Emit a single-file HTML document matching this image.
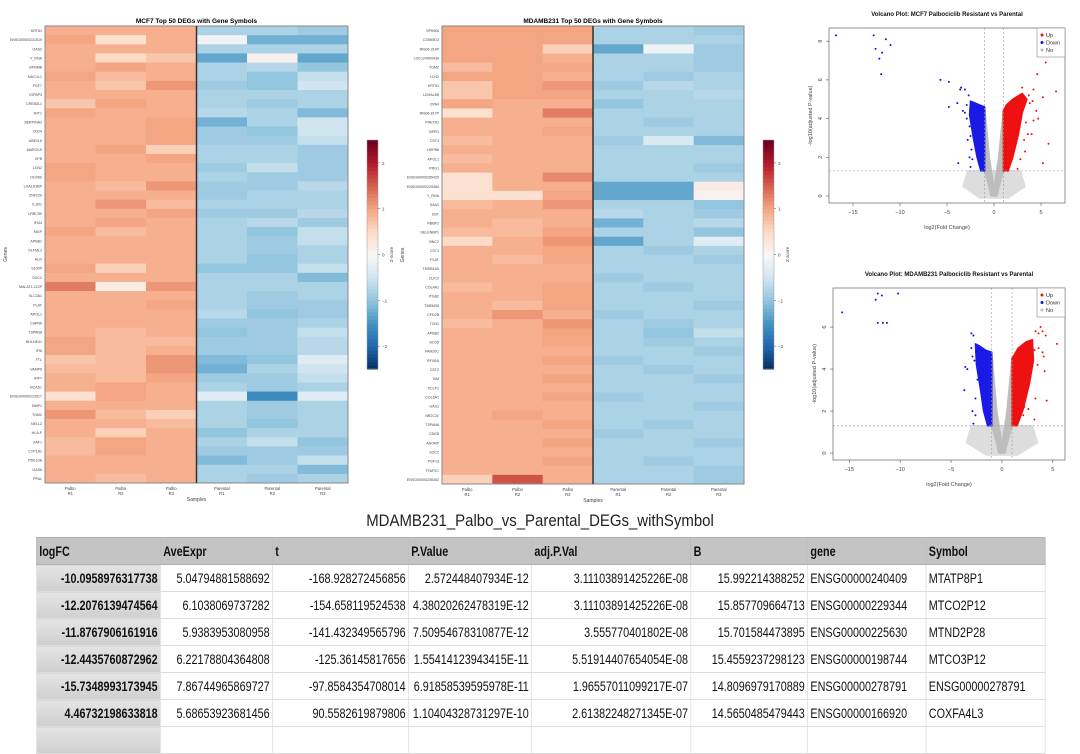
<!DOCTYPE html>
<html><head><meta charset="utf-8">
<style>
body{margin:0;width:1080px;height:712px;background:#fff;overflow:hidden;font-family:"Liberation Sans",sans-serif;position:relative}
svg{position:absolute;left:0;top:0}
#tbl-title{position:absolute;left:0;width:1080px;top:511px;text-align:center;font-size:17px;color:#222;transform:scaleX(0.88);transform-origin:540px 0}
table{position:absolute;left:36px;top:537px;border-collapse:collapse;table-layout:fixed;width:1261px;font-size:13.5px;color:#111;transform:scaleX(0.8);transform-origin:0 0}
td,th{height:26px;padding:0 3px;border:1px solid #ddd;white-space:nowrap;overflow:hidden}
th{background:#c4c4c4;text-align:left;font-weight:bold;border-color:#b0b0b0}
td{text-align:right}
td.first{background:linear-gradient(#e4e4e4,#cfcfcf);font-weight:bold}
td.txt{text-align:left}
</style></head><body>
<svg id="chart" width="1080" height="712"></svg>
<div id="tbl-title">MDAMB231_Palbo_vs_Parental_DEGs_withSymbol</div>
<table>
<colgroup><col style="width:155px"><col style="width:140px"><col style="width:170px"><col style="width:154px"><col style="width:199px"><col style="width:146px"><col style="width:148px"><col style="width:149px"></colgroup>
<tr><th>logFC</th><th>AveExpr</th><th>t</th><th>P.Value</th><th>adj.P.Val</th><th>B</th><th>gene</th><th>Symbol</th></tr>
<tr><td class="first">-10.0958976317738</td><td>5.04794881588692</td><td>-168.928272456856</td><td>2.572448407934E-12</td><td>3.11103891425226E-08</td><td>15.992214388252</td><td class="txt">ENSG00000240409</td><td class="txt">MTATP8P1</td></tr>
<tr><td class="first">-12.2076139474564</td><td>6.1038069737282</td><td>-154.658119524538</td><td>4.38020262478319E-12</td><td>3.11103891425226E-08</td><td>15.857709664713</td><td class="txt">ENSG00000229344</td><td class="txt">MTCO2P12</td></tr>
<tr><td class="first">-11.8767906161916</td><td>5.9383953080958</td><td>-141.432349565796</td><td>7.50954678310877E-12</td><td>3.555770401802E-08</td><td>15.701584473895</td><td class="txt">ENSG00000225630</td><td class="txt">MTND2P28</td></tr>
<tr><td class="first">-12.4435760872962</td><td>6.22178804364808</td><td>-125.36145817656</td><td>1.55414123943415E-11</td><td>5.51914407654054E-08</td><td>15.4559237298123</td><td class="txt">ENSG00000198744</td><td class="txt">MTCO3P12</td></tr>
<tr><td class="first">-15.7348993173945</td><td>7.86744965869727</td><td>-97.8584354708014</td><td>6.91858539595978E-11</td><td>1.96557011099217E-07</td><td>14.8096979170889</td><td class="txt">ENSG00000278791</td><td class="txt">ENSG00000278791</td></tr>
<tr><td class="first">4.46732198633818</td><td>5.68653923681456</td><td>90.5582619879806</td><td>1.10404328731297E-10</td><td>2.61382248271345E-07</td><td>14.5650485479443</td><td class="txt">ENSG00000166920</td><td class="txt">COXFA4L3</td></tr>
<tr><td class="first">&nbsp;</td><td></td><td></td><td></td><td></td><td></td><td></td><td></td></tr>
</table>
<script>
// ---------- DATA ----------
const samples = ["Palbo R1","Palbo R2","Palbo R3","Parental R1","Parental R2","Parental R3"];
const genes1 = ["KRT81","ENSG00000231519","OAS2","Y_RNA","GPNMB","MUC1L1","FGF7","IGFBP3","CREB3L1","IFIT1","SERPINA3","CD24","UBE2L6","MARCKS","CFB","LCN2","DDX60","LGALS3BP","ZNF229","IL1R1","LRRC59","IFI44","MGP","APBB1","OLFML3","HLR","S100P","SOC2","MALAT1-112P","SLC3A1","PLAT","APOL1","CAPN6","TSPAN8","BHLHE41","IFI6","FTL","VAMP5","IRF7","BCAS1","ENSG00000223517","BMP1","TGM2","NELL2","HLA-F","XAF1","CYP1A1","PDE10A","GAS6","PPAL"];
const values1 = [
[.9,.9,.9,-.8,-.8,-.9],[1.0,.4,.9,-.1,-1.2,-1.2],[.9,.9,.9,-.8,-.8,-.8],[.9,.5,.7,-1.3,.1,-1.3],[.9,1.0,.9,-.8,-.7,-1.0],
[1.0,.8,.9,-.8,-1.0,-.6],[.9,.7,1.1,-.9,-1.0,-.5],[.9,.9,.9,-.8,-.8,-.8],[.7,1.0,.9,-.8,-.9,-.8],[1.0,.9,.9,-.7,-.8,-1.1],
[.9,.9,1.0,-1.2,-.8,-.5],[.9,.9,1.0,-.9,-1.0,-.5],[.9,.9,1.0,-.9,-.9,-.6],[.9,1.0,.6,-.8,-.8,-.9],[.9,.9,1.0,-.8,-.8,-.9],
[1.0,.9,.9,-.9,-.6,-.9],[1.0,.9,.9,-.8,-.9,-.9],[.9,.8,1.1,-.9,-.9,-.7],[.9,.9,.9,-.9,-.8,-.8],[.9,1.1,.8,-.8,-.8,-.8],
[.9,.9,1.0,-.9,-.9,-.7],[.9,1.0,.9,-.8,-.7,-.9],[1.0,.8,.9,-.8,-1.0,-.6],[.9,.9,.9,-.8,-.9,-.6],[.9,.9,.9,-.8,-.9,-.8],
[.9,.9,.9,-.8,-1.0,-.8],[1.0,.6,.9,-1.0,-1.0,-.6],[.9,.9,.9,-.8,-.8,-1.1],[1.3,.2,1.1,-.8,-.8,-.8],[.9,.9,.9,-.8,-.9,-.8],
[.9,.9,1.0,-.8,-.9,-.9],[.9,.9,.9,-.7,-1.0,-.9],[.9,.9,.9,-.9,-.9,-.8],[.9,.8,.9,-1.0,-.9,-.6],[1.0,.8,.8,-.9,-.9,-.7],
[1.0,.8,.9,-.9,-.9,-.7],[.7,.8,1.1,-1.1,-1.0,-.3],[.8,.8,1.1,-1.2,-.8,-.5],[.9,.8,1.0,-.9,-.9,-.6],[.9,1.0,.9,-.8,-.9,-.8],
[.4,1.0,.9,-.3,-1.6,-.3],[.9,.9,.9,-.8,-.9,-.8],[1.1,.8,.6,-.8,-.9,-.8],[.9,.9,.8,-.8,-1.0,-.8],[.9,.6,.9,-1.0,-.8,-.8],
[.8,1.0,.9,-.8,-.6,-1.0],[.8,1.0,.9,-.9,-.9,-.9],[.9,.9,.9,-1.1,-.9,-.6],[.9,.9,.9,-.8,-.8,-1.1],[.9,.8,.9,-.8,-.9,-.8]];
const genes2 = ["SPINK8","COMMD3","RNU6-314P","LOC124900438","TGM2","LCN2","KRT81","LDHAL6B","CPA4","RNU6-817P","PHETA1","VIPR1","CST4","HSPB8","APOL1","PRG1","ENSG00000285425","ENSG00000229484","Y_RNA","SAA1","DST","RBBP1","SELENBP1","BNC2","CST1","PLAT","TMSB15A","CLIC2","COL4A1","ITGB2","TMEM30","CFD2B","TCN1","APBB2","SCG5","FAM20C","RFXBA","CST2","VIM","PCLP1","COL6A1","GAS1","NR2C2L","TSPAN8","CDKB","ADORP","SOC2","PGF13","TFAP2C","ENSG00000236452"];
const values2 = [
[1.0,1.0,1.0,-.8,-.8,-.9],[1.0,1.0,1.0,-.8,-.8,-.8],[1.0,1.0,.6,-1.3,-.1,-.9],[1.0,1.0,.9,-.8,-.8,-.9],[.8,1.0,1.0,-.8,-.8,-.9],
[1.0,1.0,.9,-.8,-.9,-.8],[.7,1.0,1.1,-.9,-.7,-.8],[.7,1.0,1.0,-.8,-.8,-.7],[1.0,.9,.9,-1.0,-.8,-.8],[.4,.9,1.3,-.8,-.8,-.8],
[.9,.9,.9,-.8,-.9,-.8],[.9,.9,1.0,-.8,-.8,-.8],[.8,.9,.9,-.9,-.4,-1.1],[.9,.9,.9,-.8,-.8,-.8],[.8,.9,.9,-.8,-.8,-.8],
[.9,.9,.9,-.8,-.8,-.9],[.4,.9,1.2,-.8,-.8,-.8],[.4,.9,.9,-1.3,-1.3,.2],[.4,.4,1.0,-1.3,-1.3,.1],[.8,.9,1.1,-.8,-.8,-1.0],
[.9,.9,.9,-.7,-.8,-.9],[.9,.8,.9,-1.2,-.8,-.7],[.8,.8,1.0,-.8,-.8,-1.0],[.5,.9,1.1,-1.3,-.8,-.3],[.9,.9,1.0,-.8,-.9,-.8],
[.9,.8,1.0,-.8,-.8,-.9],[.9,.9,.9,-.8,-.8,-.8],[.9,.9,.9,-.9,-.8,-.8],[.8,.9,1.0,-.8,-.9,-.8],[.9,.9,1.0,-.8,-.8,-.8],
[.9,.8,1.0,-.8,-.8,-.9],[.9,1.1,.9,-.9,-.8,-.8],[.8,.9,1.1,-.8,-.9,-.8],[.9,.9,1.0,-.8,-1.0,-.6],[.9,.9,1.0,-.8,-.9,-.8],
[.9,.9,.9,-.8,-.8,-.9],[.9,.9,1.0,-.9,-.8,-.8],[.9,.9,.9,-.8,-.9,-.8],[.9,.9,1.0,-.8,-.8,-.9],[.9,.9,.9,-.8,-.8,-.8],
[.9,.9,1.0,-.9,-.8,-.8],[.9,.9,.9,-.8,-.8,-.9],[.9,1.0,.9,-.8,-.8,-.8],[.9,.9,1.0,-.8,-.9,-.8],[.9,.9,.9,-.9,-.8,-.8],
[.9,.9,1.0,-.8,-.8,-.9],[.9,.9,.9,-.8,-.8,-.8],[.9,.9,1.0,-.8,-.9,-.8],[.9,.9,.9,-.8,-.8,-.9],[.6,1.6,.9,-.8,-.8,-.9]];
const cbarTicks = [2,1,0,-1,-2];
const volcXTicks = [-15,-10,-5,0,5];
const volc1YTicks = [0,2,4,6,8];
const volc2YTicks = [0,2,4,6];
const v1Down = [[-16.8,8.3],[-12.8,8.3],[-12.6,7.6],[-12.2,7.1],[-11.9,7.4],[-11.5,8.1],[-11,7.8],[-12,6.3],[-5.7,6],[-4.8,5.9],[-3.5,5.6],[-3.1,5.5],[-3.6,5.5],[-4.8,4.6],[-2.7,5.2],[-3.8,1.7],[-2.6,2.0],[-2.5,1.5],[-3.9,4.8],[-3.3,4.4],[-2.9,4.0],[-2.6,3.6],[-2.8,2.9],[-2.4,2.4],[-2.9,4.7],[-3.1,4.3],[-2.5,3.1],[-2.3,1.9]];
const v1Up = [[5.5,6.9],[4.6,6.3],[6.6,5.4],[5.2,5.1],[4.5,4.4],[4.7,4.0],[4.2,3.9],[5.8,2.7],[5.2,1.7],[3.3,2.3],[4,3.2],[2.5,1.4],[3.6,3.2],[3,5.6],[4.2,5.5],[3.8,4.8],[3.4,3.8],[4.1,4.9],[3.7,5.2],[3.2,2.9],[2.8,1.9]];
const v1DownCloud = [[-1,1.3],[-1,4.6],[-1.5,4.7],[-2,4.8],[-2.5,4.9],[-2.6,4.2],[-2.2,3],[-1.8,2],[-1.4,1.3]];
const v1UpCloud = [[1,1.3],[1,4.4],[1.3,4.7],[2,5],[3,5.3],[3.5,5],[3,4.3],[2.6,3.2],[2,2],[1.5,1.3]];
const v1NoCloud = [[-1,4.6],[-1,1.3],[-0.6,0.6],[-0.3,0],[0.3,0],[0.6,0.6],[1,1.3],[1,4.5],[0.5,2],[0,0.4],[-0.5,2]];
const v1NoScatter = [[-2.8,1.3],[-3.3,0.5],[-1.5,-0.1],[1.5,-0.1],[3.3,0.5],[2.8,1.3]];
const v2Down = [[-15.7,6.7],[-12.4,7.3],[-12.2,7.6],[-11.8,7.5],[-10.2,7.6],[-12.2,6.2],[-11.7,6.2],[-11.3,6.2],[-3,5.7],[-2.8,5.6],[-3.6,4.1],[-3.7,3.0],[-2.9,2.0],[-2.8,1.4],[-2.6,1.8],[-3.4,4.0],[-2.5,4.8],[-3,5.0],[-2.7,4.4],[-2.4,3.5],[-2.9,4.6],[-2.6,2.6]];
const v2Up = [[3.8,6],[3.3,5.8],[3.6,5.7],[4.3,5.6],[5.4,5.2],[4,4.8],[4.1,4.6],[4.2,3.9],[4.4,2.5],[3.3,2.6],[2.2,2.2],[2.6,2.1],[3.2,1.6],[2.1,1.8],[4,5.8],[3.5,4.2],[3.2,4.9],[3.6,5.0],[2.8,3.6]];
const v2DownCloud = [[-1,1.3],[-1,4.8],[-1.6,4.9],[-2.2,5.1],[-2.6,5.2],[-2.5,4.2],[-2.1,3],[-1.8,2],[-1.4,1.3]];
const v2UpCloud = [[1,1.3],[1,4.5],[1.6,5],[2.4,5.3],[3,5.4],[3.1,4.4],[2.7,3.3],[2.1,2.1],[1.5,1.3]];
const v2NoCloud = [[-1,4.8],[-1,1.3],[-0.6,0.6],[-0.3,0],[0.3,0],[0.6,0.6],[1,1.3],[1,4.6],[0.5,2],[0,0.4],[-0.5,2]];
const v2NoScatter = [[-3,1.3],[-3.5,0.5],[-1.5,-0.1],[1.5,-0.1],[3.5,0.5],[3,1.3]];

// ---------- DRAW ----------
const NS="http://www.w3.org/2000/svg";
const svg=document.getElementById('chart');
function mk(tag,attrs,parent){const e=document.createElementNS(NS,tag);for(const k in attrs)e.setAttribute(k,attrs[k]);(parent||svg).appendChild(e);return e;}
function txt(x,y,s,size,attrs,parent){const t=mk('text',Object.assign({x:x,y:y,'font-size':size,'font-family':'Liberation Sans, sans-serif',fill:'#222'},attrs||{}),parent);t.textContent=s;return t;}
const stops=[[0,[5,48,97]],[.1,[33,102,172]],[.2,[67,147,195]],[.3,[146,197,222]],[.4,[209,229,240]],[.5,[247,247,247]],[.6,[253,219,199]],[.7,[244,165,130]],[.8,[214,96,77]],[.9,[178,24,43]],[1,[103,0,31]]];
function cmap(v){let t=(v+2.5)/5;t=Math.max(0,Math.min(1,t));for(let i=1;i<stops.length;i++){if(t<=stops[i][0]){const a=stops[i-1],b=stops[i],f=(t-a[0])/(b[0]-a[0]);const c=a[1].map((x,j)=>Math.round(x+(b[1][j]-x)*f));return `rgb(${c})`;}}return 'rgb(103,0,31)';}

function heatmap(cfg){
  const g=mk('g',{});
  
  
  const {x0,x1,y0,y1}=cfg;const nR=cfg.values.length,nC=samples.length;
  const cw=(x1-x0)/nC,rh=(y1-y0)/nR;
  const xs=c=>x0+c*cw, ys=r=>y0+r*rh;
  cfg.values.forEach((row,r)=>row.forEach((v,c)=>{
    const rc=mk('rect',{x:xs(c),y:ys(r),width:cw+0.5,height:rh+0.5,fill:cmap(v)},g);
    
    
  }));
  mk('rect',{x:x0,y:y0,width:x1-x0,height:y1-y0,fill:'none',stroke:'#888','stroke-width':1},g);
  mk('line',{x1:xs(3),x2:xs(3),y1:y0,y2:y1,stroke:'#333','stroke-width':1.5},g);
  const tt=txt((x0+x1)/2,y0-3,cfg.title,6.5,{'text-anchor':'middle','font-weight':'bold',fill:'#000'},g);
  
  cfg.genes.forEach((gname,r)=>{const t=txt(x0-3,ys(r)+rh/2+1.5,gname,3.6,{'text-anchor':'end',fill:'#444'},g);});
  samples.forEach((s,c)=>{const p=s.split(' ');
    const t=txt(xs(c)+cw/2,y1+7,p[0],4.2,{'text-anchor':'middle',fill:'#444'},g);
    txt(xs(c)+cw/2,y1+12,p[1],4.2,{'text-anchor':'middle',fill:'#444'},g);});
  const sx=txt((x0+x1)/2,y1+18,'Samples',5,{'text-anchor':'middle',fill:'#444'},g);
  const gy=txt(0,0,'Genes',5,{'text-anchor':'middle',fill:'#444',transform:`translate(${cfg.gx},${(y0+y1)/2}) rotate(-90)`},g);
  const cb=cfg.cb;const ncb=60;const cbs=v=>cb.y1-(v+2.5)/5*(cb.y1-cb.y0);
  for(let i=0;i<ncb;i++){const v=-2.5+5*(i+0.5)/ncb;mk('rect',{x:cb.x,y:cbs(v)-(cb.y1-cb.y0)/ncb/2,width:cb.w,height:(cb.y1-cb.y0)/ncb+0.6,fill:cmap(v)},g);}
  mk('rect',{x:cb.x,y:cb.y0,width:cb.w,height:cb.y1-cb.y0,fill:'none',stroke:'#999','stroke-width':0.5},g);
  cbarTicks.forEach(v=>{mk('line',{x1:cb.x+cb.w,x2:cb.x+cb.w+2,y1:cbs(v),y2:cbs(v),stroke:'#555','stroke-width':0.5},g);
    const t=txt(cb.x+cb.w+4,cbs(v)+2,v===0?'0':(v<0?'\u2212'+(-v):String(v)),4.5,{fill:'#444'},g);});
  txt(0,0,'Z-score',4.5,{'text-anchor':'middle',fill:'#444',transform:`translate(${cb.x+cb.w+15},${(cb.y0+cb.y1)/2}) rotate(-90)`},g);
}
heatmap({name:'mcf7-heatmap',title:'MCF7 Top 50 DEGs with Gene Symbols',values:values1,genes:genes1,x0:45,x1:348,y0:26,y1:483,gx:7,cb:{x:367,w:11,y0:140,y1:369}});
heatmap({name:'mdamb231-heatmap',title:'MDAMB231 Top 50 DEGs with Gene Symbols',values:values2,genes:genes2,x0:442,x1:744,y0:26,y1:484,gx:404,cb:{x:763,w:11,y0:140,y1:369}});

function volcano(cfg){
  const g=mk('g',{});
  
  
  const {px0,px1,py0,py1,xmin,xmax,ymin,ymax}=cfg;
  const X=v=>px0+(v-xmin)/(xmax-xmin)*(px1-px0);
  const Y=v=>py1-(v-ymin)/(ymax-ymin)*(py1-py0);
  const poly=(pts,col,nm,op)=>{const p=mk('polygon',{points:pts.map(q=>X(q[0])+','+Y(q[1])).join(' '),fill:col,stroke:col,'stroke-width':1.5,'stroke-linejoin':'round','opacity':op||1},g);};
  poly(cfg.noScatter,'#cfcfcf','ns-points-sparse',0.7);
  poly(cfg.noCloud,'#bdbdbd','ns-points');
  poly(cfg.downCloud,'#1a1ae6','down-points-dense');
  poly(cfg.upCloud,'#ee1111','up-points-dense');
  const dots=(arr,col)=>arr.forEach(q=>{const c=mk('circle',{cx:X(q[0]),cy:Y(q[1]),r:1,fill:col},g);});
  dots(cfg.down,'#1111dd');dots(cfg.up,'#ee1111');
  [-1,1].forEach(v=>mk('line',{x1:X(v),x2:X(v),y1:py0,y2:py1,stroke:'#999','stroke-width':0.6,'stroke-dasharray':'2,2'},g));
  mk('line',{x1:px0,x2:px1,y1:Y(1.3),y2:Y(1.3),stroke:'#999','stroke-width':0.6,'stroke-dasharray':'2,2'},g);
  mk('rect',{x:px0,y:py0,width:px1-px0,height:py1-py0,fill:'none',stroke:'#777','stroke-width':0.8},g);
  volcXTicks.forEach(v=>{mk('line',{x1:X(v),x2:X(v),y1:py1,y2:py1+3,stroke:'#555','stroke-width':0.6},g);
    const t=txt(X(v),py1+11,v<0?'\u2212'+(-v):String(v),5.5,{'text-anchor':'middle',fill:'#444'},g);});
  cfg.yTicks.forEach(v=>{mk('line',{x1:px0-3,x2:px0,y1:Y(v),y2:Y(v),stroke:'#555','stroke-width':0.6},g);
    const t=txt(0,0,String(v),5.5,{'text-anchor':'middle',fill:'#444',transform:`translate(${px0-7},${Y(v)}) rotate(-90)`},g);});
  const ti=txt((px0+px1)/2,py0-12,cfg.title,6,{'text-anchor':'middle','font-weight':'bold',fill:'#111'},g);
  txt((px0+px1)/2,py1+26,'log2(Fold Change)',5.5,{'text-anchor':'middle',fill:'#444'},g);
  txt(0,0,'-log10(adjusted P-value)',5.5,{'text-anchor':'middle',fill:'#444',transform:`translate(${px0-17},${(py0+py1)/2}) rotate(-90)`},g);
  const lx=px1-28,ly=py0;
  const lg=mk('g',{},g);
  mk('rect',{x:lx,y:ly,width:28,height:29,fill:'#fff',stroke:'#888','stroke-width':0.6},lg);
  [['Up','#ee1111'],['Down','#1111dd'],['No','#bbb']].forEach((e,i)=>{mk('circle',{cx:lx+5,cy:ly+7+i*7.5,r:1.5,fill:e[1]},lg);
    const t=txt(lx+9,ly+9+i*7.5,e[0],5.5,{fill:'#333'},lg);});
}
volcano({name:'mcf7-volcano',title:'Volcano Plot: MCF7 Palbociclib Resistant vs Parental',px0:829,px1:1065,py0:28,py1:203,xmin:-17.55,xmax:7.55,ymin:-0.36,ymax:8.68,yTicks:volc1YTicks,down:v1Down,up:v1Up,downCloud:v1DownCloud,upCloud:v1UpCloud,noCloud:v1NoCloud,noScatter:v1NoScatter});
volcano({name:'mdamb231-volcano',title:'Volcano Plot: MDAMB231 Palbociclib Resistant vs Parental',px0:833,px1:1065,py0:288,py1:460,xmin:-16.6,xmax:6.2,ymin:-0.33,ymax:7.86,yTicks:volc2YTicks,down:v2Down,up:v2Up,downCloud:v2DownCloud,upCloud:v2UpCloud,noCloud:v2NoCloud,noScatter:v2NoScatter});
</script>
</body></html>
